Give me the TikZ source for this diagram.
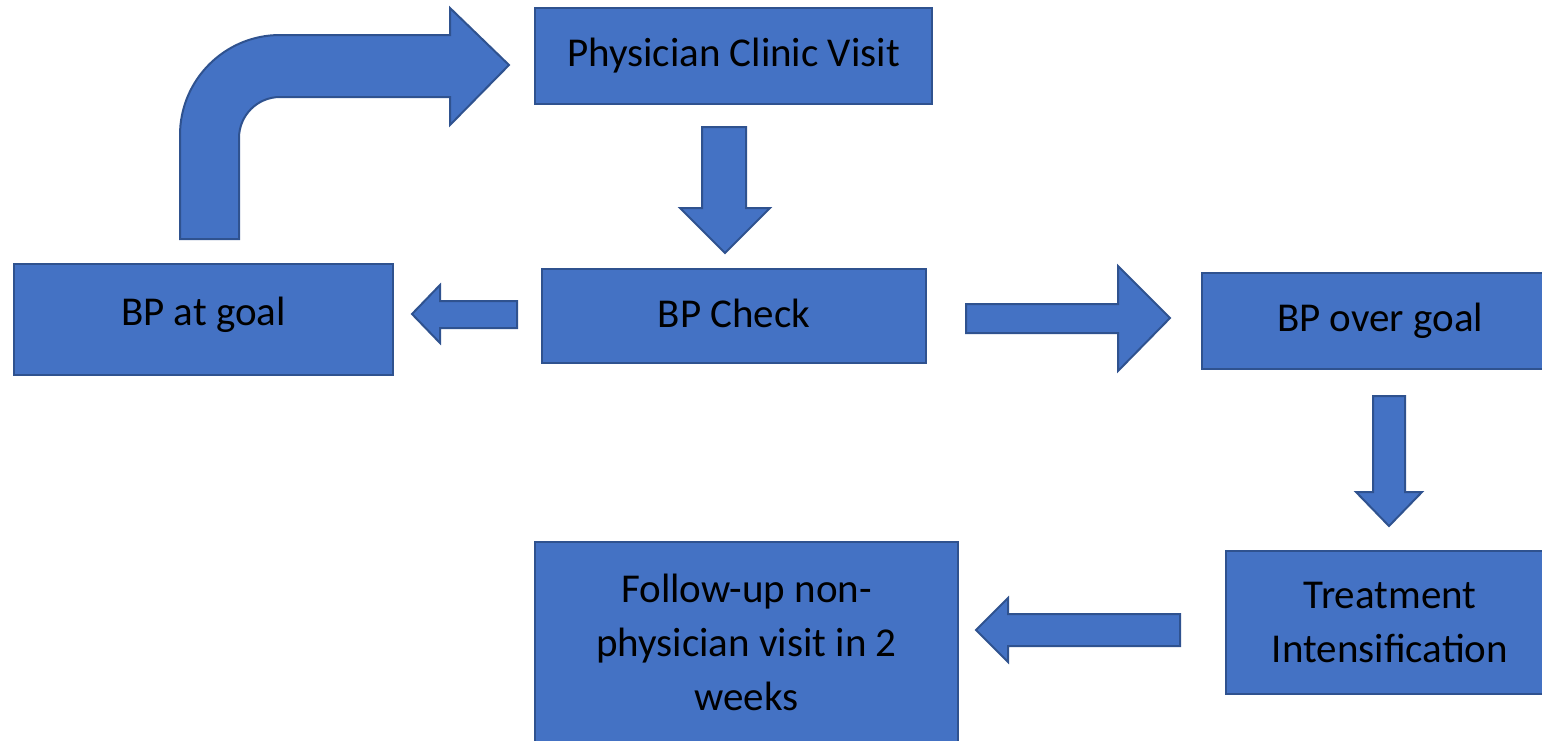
\documentclass[tikz,border=0pt]{standalone}
\usepackage{fontspec}
\setmainfont{Carlito}
\definecolor{boxfill}{HTML}{4472C4}
\definecolor{boxline}{HTML}{2F528F}
\tikzset{
  stepbox/.style={draw=boxline, fill=boxfill, line width=2pt, inner sep=0pt,
    align=center, font=\fontsize{41}{54}\selectfont, text=black},
  blockarrow/.style={draw=boxline, fill=boxfill, line width=2pt, line join=miter}
}
\begin{document}
\begin{tikzpicture}[x=1pt,y=-1pt]
\useasboundingbox (0,0) rectangle (1542,740);
\clip (0,0) rectangle (1542,740);
% boxes
\node[stepbox, minimum width=397pt, minimum height=96pt] (visit) at (733.5,56) {\raisebox{-3pt}{Physician Clinic Visit}};
\node[stepbox, minimum width=379pt, minimum height=111pt] (atgoal) at (203.5,319.5) {\raisebox{17pt}{BP at goal}};
\node[stepbox, minimum width=384pt, minimum height=94pt] (check) at (734,316) {\raisebox{5pt}{BP Check}};
\node[stepbox, minimum width=356pt, minimum height=96pt] (over) at (1380,321) {\raisebox{2pt}{BP over goal}};
\node[stepbox, minimum width=328pt, minimum height=143pt] (treat) at (1390,622.5) {Treatment\\Intensification};
\node[stepbox, minimum width=423pt, minimum height=200pt] (follow) at (746.5,642) {Follow-up non-\\physician visit in 2\\weeks};
% arrows
\draw[blockarrow] (702,127) -- (746,127) -- (746,208) -- (770,208) -- (725,253) -- (680,208) -- (702,208) -- cycle;
\draw[blockarrow] (517,301) -- (440,301) -- (440,285) -- (412,314) -- (440,343) -- (440,328) -- (517,328) -- cycle;
\draw[blockarrow] (966,304) -- (1118,304) -- (1118,266) -- (1170,318) -- (1118,371) -- (1118,333) -- (966,333) -- cycle;
\draw[blockarrow] (1373,396) -- (1405,396) -- (1405,492) -- (1422,492) -- (1389,526) -- (1356,492) -- (1373,492) -- cycle;
\draw[blockarrow] (1180,614) -- (1008,614) -- (1008,598) -- (976,630) -- (1008,662) -- (1008,646) -- (1180,646) -- cycle;
\draw[blockarrow] (180,239) -- (180,135) .. controls (180,79.8) and (224.8,35) .. (280,35)
  -- (450,35) -- (450,8) -- (509,65) -- (450,125) -- (450,97) -- (280,97)
  .. controls (257.4,97) and (239,115.4) .. (239,138) -- (239,239) -- cycle;
\end{tikzpicture}
\end{document}
